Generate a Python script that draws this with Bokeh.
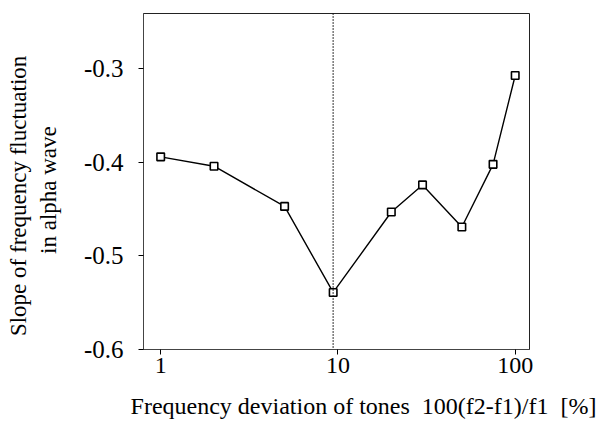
from bokeh.plotting import figure
from bokeh.models import FixedTicker, PrintfTickFormatter, Span, LinearAxis
from bokeh.embed import file_html
from bokeh.resources import INLINE

# data
deviation = [1, 2, 5, 9.4, 20, 30, 50, 75, 100]
slope = [-0.394, -0.404, -0.447, -0.539, -0.453, -0.424, -0.469, -0.402, -0.307]
x_ticks = [1, 10, 100]
y_ticks = [-0.6, -0.5, -0.4, -0.3]
marker_x = 9.4

FONT = "Liberation Serif"
NB = "\u00a0"

W, H = 600, 421
p = figure(width=W, height=H, x_axis_type="log",
           x_range=(0.8, 120.4), y_range=(-0.6, -0.2407),
           output_backend="svg", toolbar_location=None,
           min_border_left=143, min_border_right=W - 529,
           min_border_top=13, min_border_bottom=H - 351)

p.grid.visible = False
p.outline_line_color = "#222222"
p.outline_line_width = 1
p.background_fill_color = "white"
p.border_fill_color = "white"

p.add_layout(Span(location=marker_x, dimension="height", line_color="black",
                  line_dash="1 2", line_width=1.6))

p.line(deviation, slope, line_color="black", line_width=1.4)
p.scatter(deviation, slope, marker="square", size=7.5, fill_color="white",
          line_color="black", line_width=1.6)

xa = p.xaxis[0]
ya = p.yaxis[0]

xa.ticker = FixedTicker(ticks=x_ticks, minor_ticks=[])
xa.formatter = PrintfTickFormatter(format="%g")
ya.ticker = FixedTicker(ticks=y_ticks, minor_ticks=[])
ya.formatter = PrintfTickFormatter(format="%.1f")

# outer line of the two-line y label, on a tick-less axis
outer = LinearAxis(ticker=FixedTicker(ticks=[], minor_ticks=[]),
                   axis_line_color=None, major_tick_line_color=None,
                   minor_tick_line_color=None)
p.add_layout(outer, "left")

for ax in (xa, ya, outer):
    ax.major_label_text_font = FONT
    ax.major_label_text_color = "black"
    ax.axis_label_text_font = FONT
    ax.axis_label_text_font_style = "normal"
    ax.axis_label_text_color = "black"
    ax.major_tick_in = 0

for ax in (xa, ya):
    ax.axis_line_color = "#444444"
    ax.major_tick_line_color = "black"
    ax.minor_tick_line_color = None
    ax.major_tick_out = 5

xa.major_label_text_font_size = "24px"
ya.major_label_text_font_size = "25px"
xa.axis_label_text_font_size = "24px"
ya.axis_label_text_font_size = "23px"
outer.axis_label_text_font_size = "23px"
outer.major_label_text_font_size = "1px"
outer.major_tick_out = 0
outer.major_label_standoff = 0

xa.axis_label = (NB * 9 + "Frequency deviation of tones" + NB * 2
                 + "100(f2-f1)/f1" + NB * 2 + "[%]")
outer.axis_label = "Slope of frequency fluctuation" + NB * 5
ya.axis_label = "in alpha wave" + NB * 3
xa.major_label_standoff = 3
ya.major_label_standoff = 15
xa.axis_label_standoff = 17
ya.axis_label_standoff = 20
outer.axis_label_standoff = 2

open("out.html", "w").write(file_html(p, INLINE))
